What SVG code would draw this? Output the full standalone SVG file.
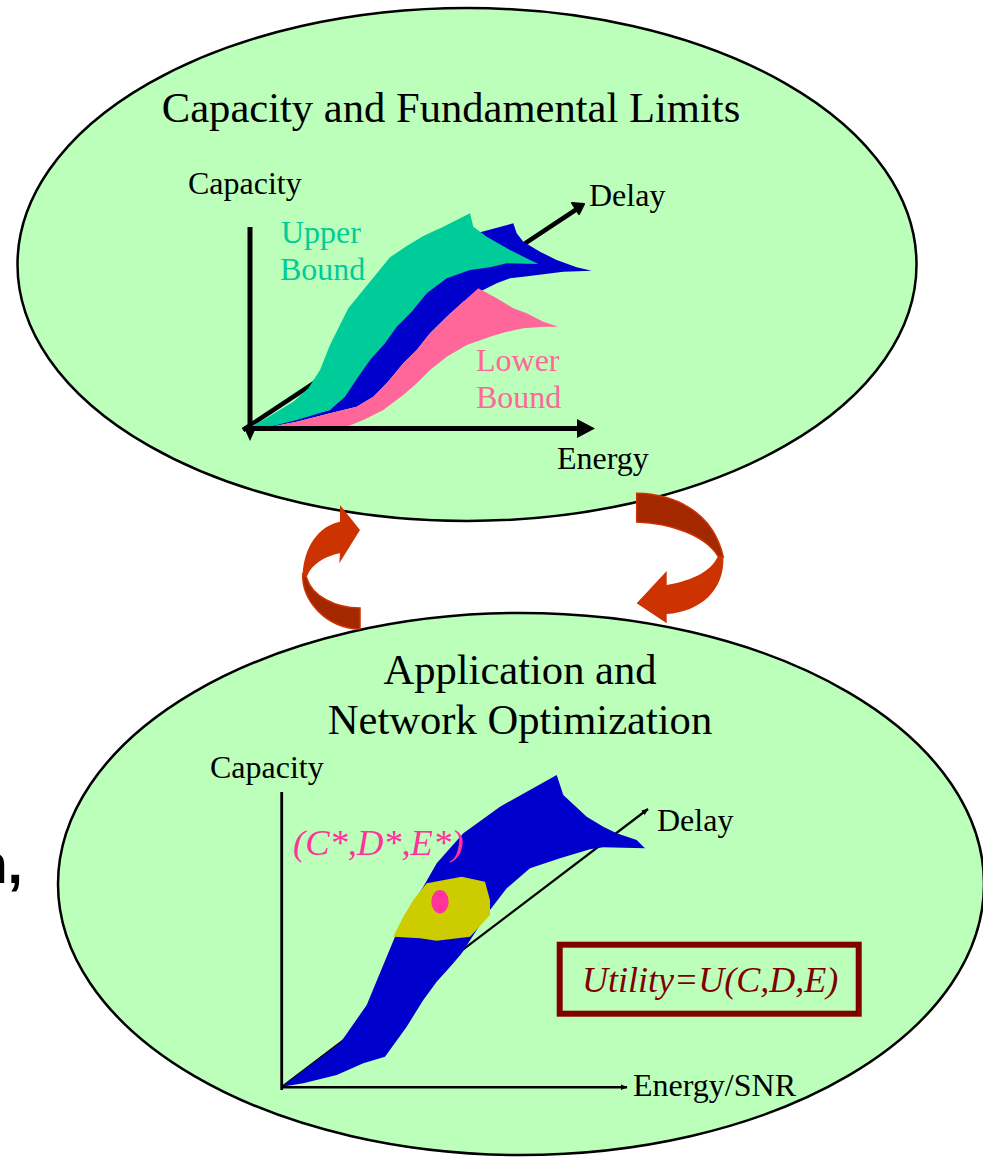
<svg xmlns="http://www.w3.org/2000/svg" width="983" height="1158" viewBox="0 0 983 1158">
<defs>
<style>
.ell{fill:#BBFFBB;stroke:#000;stroke-width:2.5}
.t{font-family:"Liberation Serif","Times New Roman",serif;fill:#000}
.title{font-size:42.6px}
.lbl{font-size:32px}
.it{font-style:italic}
.arL{fill:#CC3300}
.arD{fill:#A32800;stroke:#CC3300;stroke-width:1.5}
</style>
<marker id="mh" viewBox="0 0 10 10" refX="9" refY="5" markerWidth="7" markerHeight="7" markerUnits="userSpaceOnUse" orient="auto">
<path d="M0,1 L10,5 L0,9 Z" fill="#000"/>
</marker>
</defs>
<rect width="983" height="1158" fill="#fff"/>

<text class="t" x="-26" y="883" style="font-family:'Liberation Sans',Arial,sans-serif;font-weight:bold;font-size:55px">n,</text>

<g id="node-top">
<ellipse class="ell" cx="467" cy="264.5" rx="449.5" ry="256.5"/>
<text class="t title" x="451" y="122" text-anchor="middle">Capacity and Fundamental Limits</text>
<line x1="243" y1="430" x2="577" y2="209" stroke="#000" stroke-width="4.5"/>
<path d="M572,203 L584,204 L579,214 Z" fill="#000" stroke="#000" stroke-width="2" stroke-linejoin="round"/>
<path fill="#0000CC" d="M243.3,430 L330,410 L463.3,236.7 L513.3,223.3 L516.7,233.3 L523.3,241.7 L540,251.7 L556.7,260 L576.7,267.3 L591.7,270.7 L563.3,271.7 L543.3,274.3 L523.3,276.7 L510,278.3 L496.7,283.3 L476.7,293.3 L463.3,301.7 L446.7,316.7 L430,333.3 L416.7,350 L403.3,363.3 L386.7,383.3 L373.3,396.7 L356.7,406.7 L330,413.3 L296.7,421.7 L263.3,428.3 Z"/>
<path fill="#00CC99" d="M243.3,430 L263.3,420 L293.3,401.7 L308.3,388.3 L320,370 L330,345 L348.3,308.3 L370,281.7 L390,257.3 L406.7,246 L423.3,236 L443.3,226.7 L470,213.3 L473.3,226.7 L486.7,236.7 L510,250 L530,260 L538.3,264 L506.7,263.3 L490,267.3 L470,270 L446.7,278.3 L426.7,293.3 L411.7,311.7 L396.7,326.7 L385,343.3 L370,360 L358.3,376.7 L345,396.7 L330,410 L296.7,420 L270,426.7 Z"/>
<path fill="#FF6699" d="M243.3,430 L263.3,428.3 L296.7,421.7 L330,413.3 L356.7,406.7 L373.3,396.7 L386.7,383.3 L403.3,363.3 L416.7,350 L430,333.3 L446.7,316.7 L463.3,301.7 L478.3,288.3 L496.7,298.3 L513.3,308.3 L526.7,313.3 L543.3,321.7 L558.3,326.7 L543.3,326.7 L523.3,328.3 L506.7,331.7 L490,336.7 L466.7,345 L446.7,356.7 L430,370 L416.7,383.3 L403.3,395 L383.3,410 L363.3,420 L346.7,426.7 L296.7,429.3 Z"/>
<line x1="250" y1="227" x2="250" y2="434" stroke="#000" stroke-width="5"/>
<path d="M245,430 L255,430 L250,441 Z" fill="#000"/>
<line x1="244" y1="428.5" x2="580" y2="428.5" stroke="#000" stroke-width="5"/>
<path d="M577,419 L595,428.5 L577,438 Z" fill="#000"/>
<text class="t lbl" x="188" y="194">Capacity</text>
<text class="t lbl" x="589" y="206">Delay</text>
<text class="t lbl" x="557" y="469">Energy</text>
<text class="t lbl" x="281" y="243" style="fill:#00CC99">Upper</text>
<text class="t lbl" x="280" y="280" style="fill:#00CC99">Bound</text>
<text class="t lbl" x="476" y="371" style="fill:#FF6699">Lower</text>
<text class="t lbl" x="476" y="408" style="fill:#FF6699">Bound</text>
</g>

<g id="node-bottom">
<ellipse class="ell" cx="521" cy="884" rx="463" ry="271"/>
<text class="t title" x="520" y="684" text-anchor="middle">Application and</text>
<text class="t title" x="520" y="734" text-anchor="middle">Network Optimization</text>
<line x1="282" y1="1087" x2="648" y2="809" stroke="#000" stroke-width="2.2" marker-end="url(#mh)"/>
<path fill="#0000CC" d="M281.7,1086.7 L340,1043.3 L366.7,1005 L386.7,956.7 L395,936.7 L406.7,913.3 L423.3,886.7 L436.7,863.3 L463.3,833.3 L500,806.7 L556.7,775 L563.3,795 L586.7,816.7 L603.3,826.7 L616.7,833.3 L636.7,840 L645,848.3 L603.3,847.3 L590,849.3 L560,858.3 L530,868.3 L506.7,888.3 L490,910 L476.7,930 L461.7,953.3 L453.3,963.3 L436.7,981.7 L423.3,1000 L406.7,1026.7 L385,1056.7 L363.3,1063.3 L336.7,1075 L303.3,1083.3 Z"/>
<path fill="#CCCC00" d="M393.3,936.7 L403.3,916.7 L413.3,900 L426.7,883.3 L461.7,876.7 L485,881.7 L490,900 L490,915 L470,936.7 L436.7,940.7 L420,938.3 Z"/>
<ellipse cx="440" cy="901.7" rx="8.7" ry="11.7" fill="#FF3399"/>
<line x1="281.7" y1="792" x2="281.7" y2="1090" stroke="#000" stroke-width="2.8"/>
<line x1="281" y1="1087.3" x2="627" y2="1087.3" stroke="#000" stroke-width="2.5" marker-end="url(#mh)"/>
<text class="t lbl" x="210" y="778">Capacity</text>
<text class="t lbl" x="657" y="831">Delay</text>
<text class="t lbl" x="633" y="1096">Energy/SNR</text>
<text class="t it" x="293" y="855" style="font-size:36.5px;fill:#FF3399">(C*,D*,E*)</text>
<rect x="559.7" y="944.7" width="299" height="69" fill="none" stroke="#800000" stroke-width="6"/>
<text class="t it" x="582" y="991.7" style="font-size:36px;fill:#800000">Utility=U(C,D,E)</text>
</g>

<g id="connectors">
<g id="arrow-left">
<path class="arD" d="M302.7,574 C302,600 325,628 360,629 L360,608 C335,608 312,596 306.7,578 Z"/>
<path class="arL" d="M340,521.7 C318,526 304,548 302.7,574 L306.7,578 C310,565 325,556 340,553.3 L339.3,563.3 L360,530 L340,505 Z"/>
</g>
<g id="arrow-right">
<path class="arD" d="M636.7,493.3 C670,494 712,508 723.3,557 L718,556 C705,535 670,523 636.7,522 Z"/>
<path class="arL" d="M723.3,557 C725,590 700,612 666.7,614 L666.7,623.3 L636.7,603.3 L666.7,571 L666.7,585 C695,580 712,570 718,556 Z"/>
</g>
</g>
</svg>
